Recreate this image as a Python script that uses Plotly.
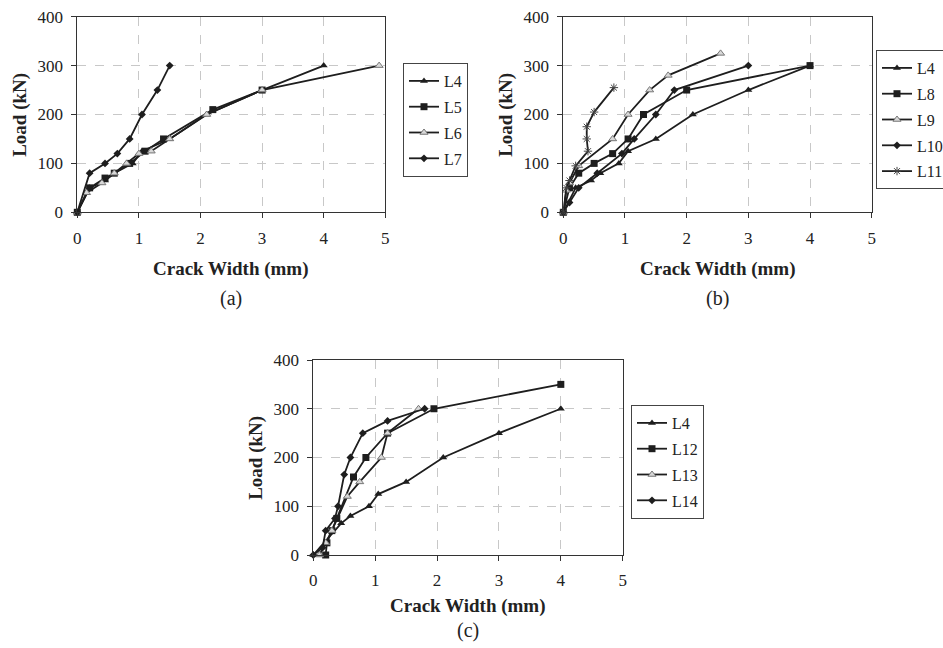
import plotly.graph_objects as go

W, H = 943, 648

# ---------------- data ----------------
# Panel (a)
a_L4_x = [0, 0.2, 0.45, 0.6, 0.9, 1.05, 1.5, 2.1, 3.0, 4.0]
a_L4_y = [0, 50, 65, 80, 100, 125, 150, 200, 250, 300]
a_L5_x = [0, 0.2, 0.45, 0.6, 0.85, 1.1, 1.4, 2.2, 3.0]
a_L5_y = [0, 50, 70, 80, 100, 125, 150, 210, 250]
a_L6_x = [0, 0.15, 0.4, 0.6, 0.8, 1.0, 1.2, 1.5, 2.1, 3.0, 4.9]
a_L6_y = [0, 40, 60, 80, 100, 120, 125, 150, 200, 250, 300]
a_L7_x = [0, 0.2, 0.45, 0.65, 0.85, 1.05, 1.3, 1.5]
a_L7_y = [0, 80, 100, 120, 150, 200, 250, 300]

# Panel (b)
b_L4_x = a_L4_x
b_L4_y = a_L4_y
b_L8_x = [0, 0.1, 0.25, 0.5, 0.8, 1.05, 1.3, 2.0, 4.0]
b_L8_y = [0, 50, 80, 100, 120, 150, 200, 250, 300]
b_L9_x = [0, 0.05, 0.1, 0.25, 0.8, 1.05, 1.4, 1.7, 2.55]
b_L9_y = [0, 45, 60, 95, 150, 200, 250, 280, 325]
b_L10_x = [0, 0.1, 0.25, 0.55, 0.95, 1.15, 1.5, 1.8, 3.0]
b_L10_y = [0, 20, 50, 80, 120, 150, 200, 250, 300]
b_L11_x = [0, 0.05, 0.1, 0.2, 0.4, 0.38, 0.38, 0.5, 0.82]
b_L11_y = [0, 50, 65, 95, 125, 150, 175, 205, 255]

# Panel (c)
c_L4_x = [0, 0.45, 0.6, 0.9, 1.05, 1.5, 2.1, 3.0, 4.0]
c_L4_y = [0, 65, 80, 100, 125, 150, 200, 250, 300]
c_L12_x = [0.2, 0.22, 0.3, 0.38, 0.65, 0.85, 1.2, 1.95, 4.0]
c_L12_y = [0, 25, 50, 75, 160, 200, 250, 300, 350]
c_L13_x = [0.1, 0.2, 0.3, 0.55, 0.75, 1.1, 1.2, 1.7]
c_L13_y = [0, 25, 50, 120, 150, 200, 250, 300]
c_L14_x = [0, 0.15, 0.2, 0.35, 0.4, 0.5, 0.6, 0.8, 1.2, 1.8]
c_L14_y = [0, 15, 50, 75, 100, 165, 200, 250, 275, 300]

x_ticks = [0, 1, 2, 3, 4, 5]
y_ticks = [0, 100, 200, 300, 400]
x_title = "Crack Width (mm)"
y_title = "Load (kN)"
panel_labels = ["(a)", "(b)", "(c)"]

# ---------------- styling ----------------
FONT = "Liberation Serif"
TXT = "#222"
LINE = "#1e1e1e"
STY = {
    "tri": dict(symbol="triangle-up", size=7, color=LINE),
    "sq": dict(symbol="square", size=7, color=LINE),
    "otri": dict(symbol="triangle-up", size=7, color="#d8d8d8", line=dict(color="#777", width=1)),
    "dia": dict(symbol="diamond", size=6, color=LINE),
    "ast": dict(symbol="asterisk-open", size=7, color="#444", line=dict(color="#444", width=1)),
}

fig = go.Figure()


def px_x(p):
    return p / W


def px_y(p):
    return 1 - p / H


panels = {
    "a": dict(x0=77.3, x1=385.3, y0=16.7, y1=212.3, xa="x", ya="y", leg="legend",
              xt=57, lab=86, legpos=(403, 63)),
    "b": dict(x0=563.3, x1=871.7, y0=16.7, y1=212.3, xa="x2", ya="y2", leg="legend2",
              xt=57, lab=86, legpos=(876, 50)),
    "c": dict(x0=313.3, x1=622.7, y0=360.0, y1=555.0, xa="x3", ya="y3", leg="legend3",
              xt=51, lab=75, legpos=(631, 405)),
}

series = {
    "a": [("L4", a_L4_x, a_L4_y, "tri"), ("L5", a_L5_x, a_L5_y, "sq"),
          ("L6", a_L6_x, a_L6_y, "otri"), ("L7", a_L7_x, a_L7_y, "dia")],
    "b": [("L4", b_L4_x, b_L4_y, "tri"), ("L8", b_L8_x, b_L8_y, "sq"),
          ("L9", b_L9_x, b_L9_y, "otri"), ("L10", b_L10_x, b_L10_y, "dia"),
          ("L11", b_L11_x, b_L11_y, "ast")],
    "c": [("L4", c_L4_x, c_L4_y, "tri"), ("L12", c_L12_x, c_L12_y, "sq"),
          ("L13", c_L13_x, c_L13_y, "otri"), ("L14", c_L14_x, c_L14_y, "dia")],
}

for key, p in panels.items():
    for name, xs, ys, st in series[key]:
        fig.add_trace(go.Scatter(
            x=xs, y=ys, name=name, mode="lines+markers",
            line=dict(color=LINE, width=1.8),
            marker=STY[st], xaxis=p["xa"], yaxis=p["ya"],
            legend=p["leg"], legendgroup=key + name, cliponaxis=False,
        ))

axis_common = dict(
    showline=True, mirror=True, linecolor="#333", linewidth=1,
    showgrid=True, gridcolor="#c8c8c8", griddash="dash", gridwidth=1,
    zeroline=False, ticks="outside", ticklen=5, tickcolor="#333",
    tickfont=dict(family=FONT, size=17, color=TXT),
)

layout = dict(
    width=W, height=H, margin=dict(l=0, r=0, t=0, b=0, autoexpand=False),
    paper_bgcolor="white", plot_bgcolor="white", showlegend=True,
    font=dict(family=FONT, color=TXT),
)

annotations = []
for i, (key, p) in enumerate(panels.items()):
    sfx = "" if i == 0 else str(i + 1)
    layout["xaxis" + sfx] = dict(
        axis_common, domain=[px_x(p["x0"]), px_x(p["x1"])], range=[0, 5],
        tickvals=x_ticks, ticklabelstandoff=5, anchor=p["ya"],
    )
    layout["yaxis" + sfx] = dict(
        axis_common, domain=[px_y(p["y1"]), px_y(p["y0"])], range=[0, 400],
        tickvals=y_ticks, ticklabelstandoff=5, anchor=p["xa"],
    )
    lx, ly = p["legpos"]
    layout[p["leg"]] = dict(
        x=px_x(lx), y=px_y(ly), xanchor="left", yanchor="top",
        bordercolor="#444", borderwidth=1, bgcolor="white",
        font=dict(family=FONT, size=16, color=TXT),
        tracegroupgap=2, itemwidth=30,
    )
    cx = (p["x0"] + p["x1"]) / 2
    cy = (p["y0"] + p["y1"]) / 2
    common = dict(xref="paper", yref="paper", showarrow=False,
                  xanchor="center", yanchor="middle")
    annotations.append(dict(common, text="<b>" + x_title + "</b>",
                            x=px_x(cx), y=px_y(p["y1"] + p["xt"]),
                            font=dict(family=FONT, size=19, color=TXT)))
    annotations.append(dict(common, text="<b>" + y_title + "</b>",
                            x=px_x(p["x0"] - 58), y=px_y(cy), textangle=-90,
                            font=dict(family=FONT, size=19, color=TXT)))
    annotations.append(dict(common, text=panel_labels[i],
                            x=px_x(cx), y=px_y(p["y1"] + p["lab"]),
                            font=dict(family=FONT, size=20, color=TXT)))

layout["annotations"] = annotations
fig.update_layout(**layout)
fig.write_html("out.html", config={"displayModeBar": False},
               post_script="document.body.style.margin='0px';")
